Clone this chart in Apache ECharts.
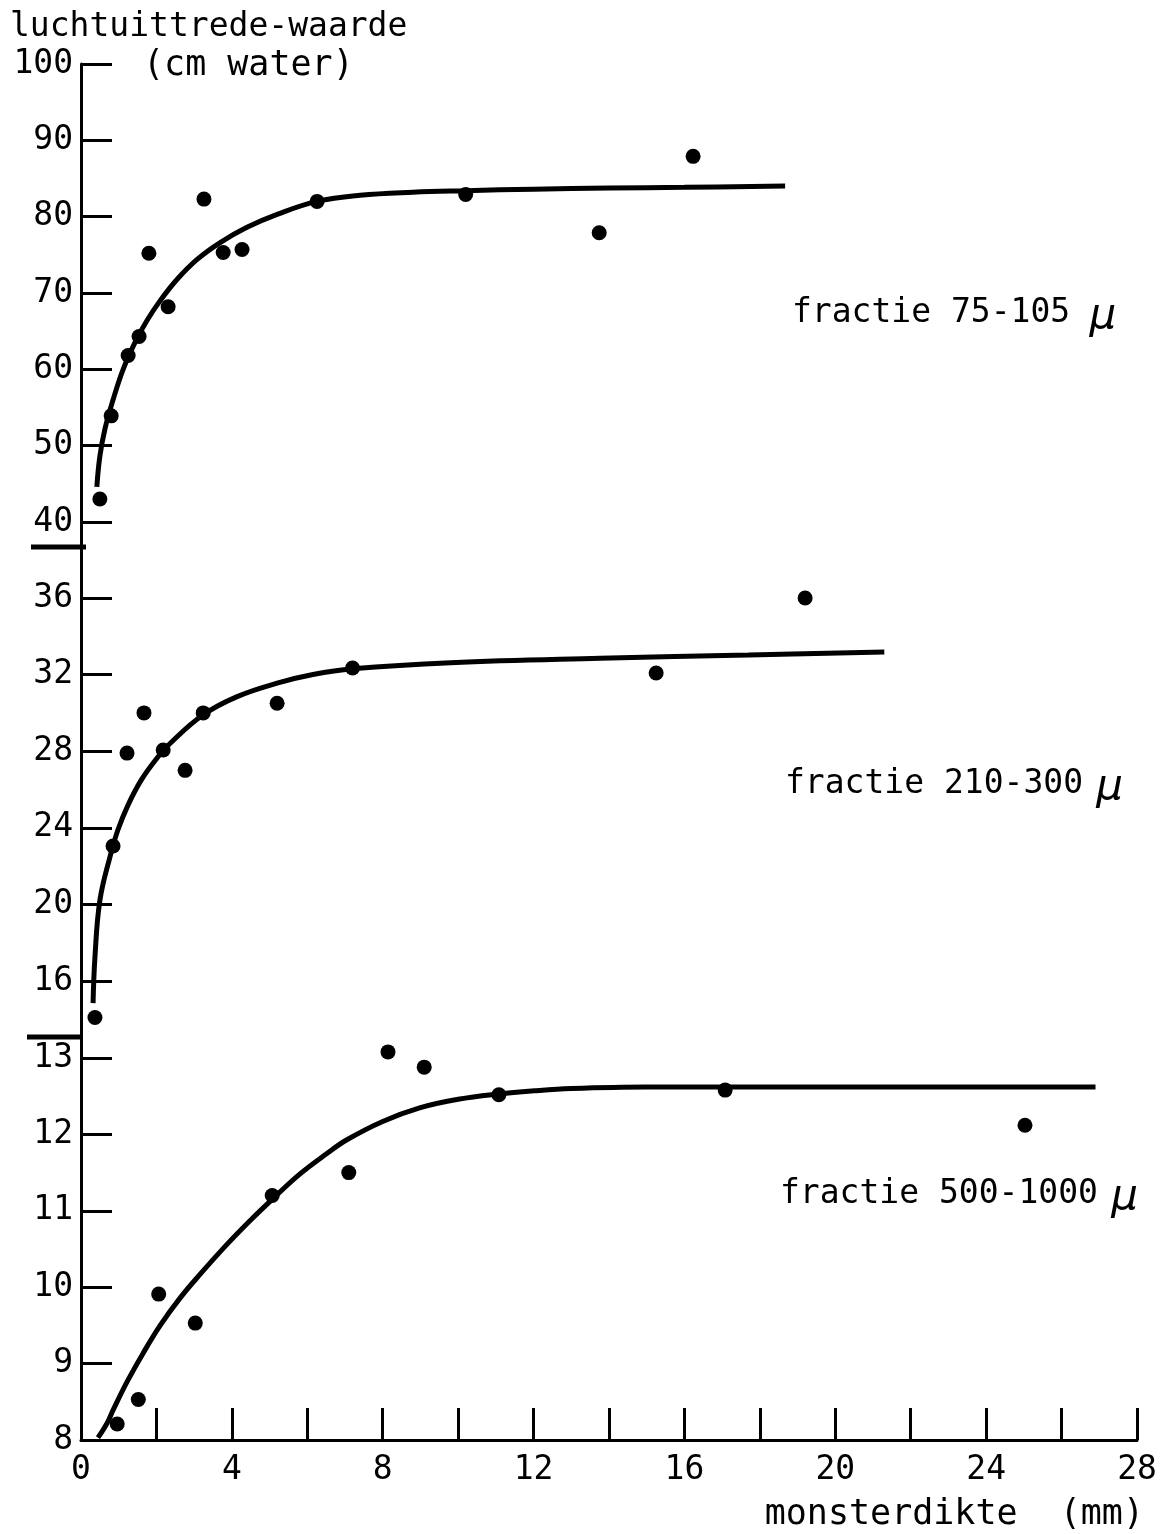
<!DOCTYPE html>
<html><head><meta charset="utf-8">
<script src="https://cdn.jsdelivr.net/npm/echarts@6/dist/echarts.min.js"></script>
<style>html,body{margin:0;padding:0;background:#fff}#c{width:1160px;height:1534px}</style>
</head><body><div id="c"></div>
<script>
// ---- data ----
const xTicks = [0, 2, 4, 6, 8, 10, 12, 14, 16, 18, 20, 22, 24, 26, 28];
const xLabels = [0, 4, 8, 12, 16, 20, 24, 28];
const yTicksTop = [40, 50, 60, 70, 80, 90, 100];
const yTicksMid = [16, 20, 24, 28, 32, 36];
const yTicksBot = [8, 9, 10, 11, 12, 13];

// fractie 75-105 μ
const pts75 = [[0.50,43.0],[0.80,53.9],[1.25,61.8],[1.54,64.3],[1.80,75.2],[2.31,68.2],[3.26,82.3],[3.77,75.3],[4.27,75.7],[6.26,82.0],[10.2,82.9],[13.74,77.9],[16.23,87.9]];
const curve75 = [[0.42,44.6],[0.5,48.6],[0.64,52.3],[0.85,56.0],[1.11,59.9],[1.43,63.5],[1.75,66.4],[2.1,69.0],[2.55,71.8],[3.08,74.4],[3.69,76.6],[4.4,78.6],[5.2,80.3],[6.26,82.0],[7.4,82.8],[8.8,83.2],[10.2,83.4],[12,83.6],[14,83.75],[16,83.85],[18.67,84.0]];

// fractie 210-300 μ
const pts210 = [[0.37,14.1],[0.85,23.05],[1.22,27.9],[1.67,30.0],[2.18,28.06],[2.76,27.0],[3.24,30.0],[5.2,30.5],[7.2,32.34],[15.25,32.08],[19.2,36.0]];
const curve210 = [[0.32,14.85],[0.37,17.25],[0.5,20.2],[0.77,22.5],[0.98,23.9],[1.25,25.2],[1.6,26.5],[2.0,27.6],[2.36,28.4],[3.24,29.9],[4.14,30.85],[5.2,31.55],[6.15,32.0],[7.2,32.3],[9.8,32.62],[13.76,32.85],[17.7,33.02],[21.3,33.18]];

// fractie 500-1000 μ
const pts500 = [[0.96,8.21],[1.52,8.53],[2.06,9.91],[3.03,9.53],[5.07,11.2],[7.1,11.5],[8.14,13.08],[9.1,12.88],[11.08,12.52],[17.08,12.58],[25.03,12.12]];
const curve500 = [[0.45,8.03],[0.69,8.22],[0.85,8.39],[1.22,8.76],[1.64,9.13],[2.1,9.5],[2.63,9.86],[3.16,10.17],[3.87,10.56],[4.48,10.87],[5.07,11.15],[5.8,11.48],[6.52,11.75],[7.05,11.93],[8.0,12.17],[9.0,12.35],[10.0,12.46],[11.08,12.53],[12,12.57],[13,12.6],[15,12.62],[17.08,12.62],[20,12.62],[24,12.62],[26.9,12.62]];

const titleText = 'luchtuittrede-waarde';
const unitText = '(cm water)';
const xName = 'monsterdikte  (mm)';
const labels = ['fractie 75-105', 'fractie 210-300', 'fractie 500-1000'];

// ---- chart ----
const FONT = '"DejaVu Sans Mono", monospace';
const K = '#000';
const chart = echarts.init(document.getElementById('c'), null, {renderer: 'canvas'});

function yAxis(idx, min, max, ticks) {
  return {
    type: 'value', gridIndex: idx, min: min, max: max,
    axisLine: {show: true, lineStyle: {color: K, width: 3}},
    axisTick: {show: true, inside: true, length: 31, lineStyle: {color: K, width: 3}, customValues: ticks},
    axisLabel: {show: true, color: K, fontFamily: FONT, fontSize: 33, margin: 8, customValues: ticks},
    splitLine: {show: false}
  };
}
function xAxisHidden(idx) {
  return {type: 'value', gridIndex: idx, min: 0, max: 28, show: false};
}
const dot = {color: K, opacity: 1};
const lineStyle = {color: K, width: 5};
const lineSeries = (idx, data) => ({type: 'line', xAxisIndex: idx, yAxisIndex: idx, data: data, showSymbol: false, smooth: 0.4, lineStyle: lineStyle, itemStyle: dot, z: 2});
const dotSeries = (idx, data) => ({type: 'scatter', xAxisIndex: idx, yAxisIndex: idx, data: data, symbolSize: 15, itemStyle: dot, z: 3});
const richLabel = (pad) => ({t: {fontFamily: FONT, fontSize: 33, fill: K}, m: {fontFamily: 'DejaVu Sans', fontSize: 42, fontStyle: 'italic', fill: K, padding: [8, 0, 0, pad]}});

const option = {
  animation: false,
  backgroundColor: '#fff',
  grid: [
    {left: 81, right: 23, top: 64, height: 483},
    {left: 81, right: 23, top: 547, height: 490},
    {left: 81, right: 23, top: 1037, height: 403}
  ],
  xAxis: [
    xAxisHidden(0), xAxisHidden(1),
    {
      type: 'value', gridIndex: 2, min: 0, max: 28, interval: 2,
      axisLine: {show: true, lineStyle: {color: K, width: 3}},
      axisTick: {show: true, inside: true, length: 32, lineStyle: {color: K, width: 3}, customValues: xTicks},
      axisLabel: {show: true, color: K, fontFamily: FONT, fontSize: 33, margin: 14, customValues: xLabels},
      splitLine: {show: false}
    }
  ],
  yAxis: [
    yAxis(0, 36.72, 100, yTicksTop),
    yAxis(1, 13.08, 38.66, yTicksMid),
    yAxis(2, 8, 13.275, yTicksBot)
  ],
  series: [
    lineSeries(0, curve75), dotSeries(0, pts75),
    lineSeries(1, curve210), dotSeries(1, pts210),
    lineSeries(2, curve500), dotSeries(2, pts500)
  ],
  graphic: [
    // axis break marks
    {type: 'line', shape: {x1: 31, y1: 547, x2: 86, y2: 547}, style: {stroke: K, lineWidth: 5}},
    {type: 'line', shape: {x1: 27, y1: 1037, x2: 82, y2: 1037}, style: {stroke: K, lineWidth: 5}},
    // axis titles
    {type: 'text', x: 10, y: 27, style: {text: titleText, font: '33px "DejaVu Sans Mono"', fill: K, verticalAlign: 'middle', align: 'left'}},
    {type: 'text', x: 143, y: 66, style: {text: unitText, font: '35px "DejaVu Sans Mono"', fill: K, verticalAlign: 'middle', align: 'left'}},
    {type: 'text', x: 1144, y: 1515, style: {text: xName, font: '35px "DejaVu Sans Mono"', fill: K, verticalAlign: 'middle', align: 'right'}},
    // series labels
    {type: 'text', x: 792, y: 313, style: {text: '{t|' + labels[0] + '}{m| μ}', verticalAlign: 'middle', align: 'left', rich: richLabel(6)}},
    {type: 'text', x: 785, y: 784, style: {text: '{t|' + labels[1] + '}{m| μ}', verticalAlign: 'middle', align: 'left', rich: richLabel(0)}},
    {type: 'text', x: 780, y: 1194, style: {text: '{t|' + labels[2] + '}{m| μ}', verticalAlign: 'middle', align: 'left', rich: richLabel(0)}}
  ]
};
chart.setOption(option);
</script>
</body></html>
